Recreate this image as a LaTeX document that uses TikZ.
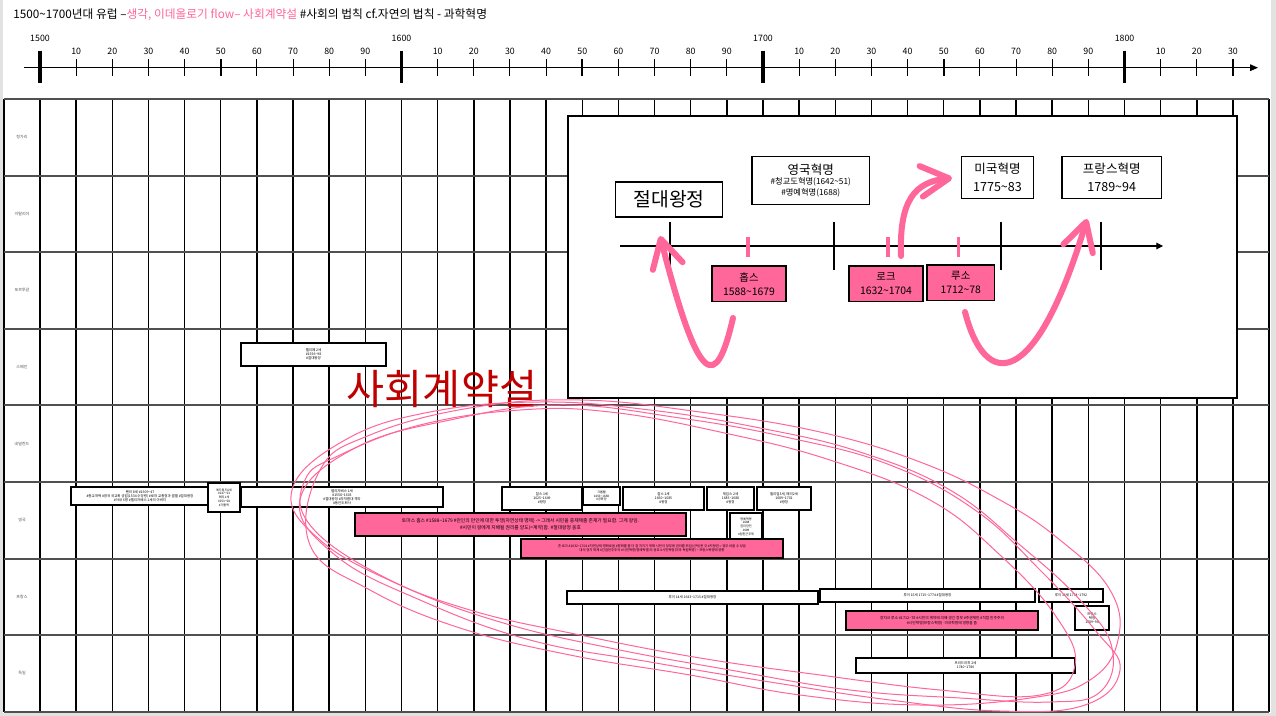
\documentclass[tikz,border=0pt]{standalone}
\usepackage{fontspec}
\setmainfont{Noto Sans CJK KR}
\usetikzlibrary{arrows.meta}

\definecolor{hpink}{RGB}{255,102,153}
\definecolor{sred}{RGB}{192,0,0}
\definecolor{gline}{RGB}{80,80,80}
\definecolor{edge}{RGB}{226,226,226}
\newcommand{\wave}{\textasciitilde}

\tikzset{
  yrlbl/.style={inner sep=0pt,font=\fontsize{6.6}{7}\selectfont},
  ctick/.style={line width=2.6pt},
  mtick/.style={line width=1.8pt},
  dtick/.style={line width=0.8pt},
  gridv/.style={line width=1.1pt},
  gridh/.style={line width=1.4pt,draw=gline},
  rlbl/.style={inner sep=0pt,text=gline,font=\fontsize{3}{3.4}\selectfont},
  wh/.style 2 args={minimum width=#1*0.75pt,minimum height=#2*0.75pt},
  cell/.style={draw,fill=white,line width=0.9pt,inner sep=0pt,align=center,font=\fontsize{2.6}{3.1}\selectfont},
  pcell/.style={cell,fill=hpink},
  ibox/.style={draw,fill=white,line width=0.8pt,inner sep=0pt,align=center},
  pbox/.style={ibox,fill=hpink},
  parrow/.style={draw=hpink,line width=4.5pt,line cap=round,line join=round,
    -{Straight Barb[length=21pt,width=23pt,line cap=round,line join=round]}},
  scrib/.style={draw=hpink,line width=0.75pt}
}

\begin{document}
\begin{tikzpicture}[x=0.75pt,y=-0.75pt]
\useasboundingbox (0,0) rectangle (1276,716);
\fill[white] (0,0) rectangle (1276,716);
\fill[edge] (0,0) rectangle (3,716);
\fill[edge] (1271,0) rectangle (1276,716);
\fill[edge] (0,713) rectangle (1276,716);

% title
\node[anchor=west,inner sep=0pt,font=\fontsize{8.8}{10}\selectfont] (title) at (13,15)
  {1500\wave1700년대 유럽 –\textcolor{hpink}{생각, 이데올로기 flow– 사회계약설} \#사회의 법칙 cf.자연의 법칙 - 과학혁명};

% time line 1500 - 1830
\draw[line width=0.9pt,-{Triangle[length=6pt,width=5pt]}] (24,67.7) -- (1258,67.7);
\foreach \c/\yr in {0/1500,1/1600,2/1700,3/1800}{
  \draw[ctick] ({40+361.5*\c},50.7) -- ({40+361.5*\c},82.7);
  \node[yrlbl] (cy\c) at ({40+361.5*\c},38) {\yr};
}
\foreach \c in {0,1,2}{
  \foreach \d in {1,2,3,4,6,7,8,9}{
    \pgfmathsetmacro\tx{40+361.5*\c+36.15*\d}
    \draw[dtick] (\tx,59.3) -- (\tx,76);
    \node[yrlbl] (y\c\d) at (\tx,51) {\d0};
  }
  \pgfmathsetmacro\tx{40+361.5*\c+180.75}
  \draw[mtick] (\tx,59.3) -- (\tx,76);
  \node[yrlbl] (y\c5) at (\tx,51) {50};
}
\foreach \d in {1,2,3}{
  \pgfmathsetmacro\tx{40+1084.5+36.15*\d}
  \draw[dtick] (\tx,59.3) -- (\tx,76);
  \node[yrlbl] (y3\d) at (\tx,51) {\d0};
}

% table
\foreach \k in {0,...,34}
  \draw[gridv] ({40+36.15*\k},99) -- ({40+36.15*\k},712);
\draw[gridv] (4,99) -- (4,712);
\foreach \r in {0,...,8}
  \draw[gridh] (4,{99+76.6*\r}) -- (1269,{99+76.6*\r});
\foreach \lbl [count=\i from 0] in {헝가리,이탈리아,포르투갈,스페인,네덜란드,영국,프랑스,독일}
  \node[rlbl] (row\i) at (22,{137.3+76.6*\i}) {\lbl};

% spain
\node[cell,wh={145}{23}] (philip) at (313.5,354.5) {펠리페 2세\\\#1556\wave98\\\#절대왕정};

% england
\node[cell,wh={138}{18}] (henry) at (140,496) {헨리 8세 \#1509\wave47\\\#종교개혁 \#영국 국교회 성립(1534 수장령) \#로마 교황청과 결별 \#절대왕정\\\#아내 6명 \#엘리자베스 1세의 아버지};
\node[cell,wh={32}{29},font=\fontsize{2.3}{2.8}\selectfont] (edward) at (224,497.5) {에드워드6세\\1547\wave53\\메리1세\\1553\wave58\\\#가톨릭};
\node[cell,wh={202}{20}] (eliz) at (342,497) {엘리자베스 1세\\\#1558\wave1603\\\#절대왕정 \#무적함대 격파\\\#동인도회사};
\node[cell,wh={80}{23}] (charles1) at (542,498.5) {찰스 1세\\1625\wave1649\\\#왕정};
\node[cell,wh={37}{18},font=\fontsize{2.3}{2.8}\selectfont] (cromwell) at (601.5,496) {크롬웰\\1653\wave1658\\\#공화정};
\node[cell,wh={81}{23}] (charles2) at (663.5,498.5) {찰스 2세\\1660\wave1685\\\#왕정};
\node[cell,wh={47}{23}] (james2) at (730.5,498.5) {제임스 2세\\1685\wave1688\\\#왕정};
\node[cell,wh={54}{23}] (william) at (784,498.5) {윌리엄3세, 메리2세\\1689\wave1702\\\#왕정};
\node[cell,wh={32}{27},font=\fontsize{2.3}{2.8}\selectfont] (glorious) at (746,526.5) {명예혁명\\1688\\권리장전\\1689\\\#입헌군주제};
\node[pcell,wh={331}{23},font=\fontsize{3.6}{5}\selectfont] (hobbes) at (520.5,524.5) {토마스 홉스 \#1588\wave1679 \#만인의 만인에 대한 투쟁(자연상태 명제) -> 그래서 시민을 중재해줄 존재가 필요함. 그게 왕임.\\\#시민이 왕에게 지배될 권리를 양도(=계약)함. \#절대왕정 옹호};
\node[pcell,wh={262}{19},font=\fontsize{2.5}{3.6}\selectfont] (locke) at (652,548.5) {존 로크 \#1632\wave1704 \#자연상태 평화로움 \#평화를 좀 더 잘 지키기 위해 시민이 정부에 권리를 위임(신탁)한 것 \#저항권 = 정부 바꿀 수 있음\\대의 정치 체제 \#간접민주주의 \#시민혁명(명예혁명)의 옹호 \#시민혁명(미국 독립혁명) \wave\ 프랑스혁명에 영향};

% france
\node[cell,wh={251}{13}] (louis14) at (692.5,597.5) {루이 14세 1643\wave1715 \#절대왕정};
\node[cell,wh={215}{13}] (louis15) at (927.5,595.5) {루이 15세 1715\wave1774 \#절대왕정};
\node[cell,wh={64}{13}] (louis16) at (1071,595.5) {루이 16세 1774\wave1792};
\node[pcell,wh={192}{19},font=\fontsize{2.8}{3.9}\selectfont] (rousseau) at (942,620.5) {장자크 루소 \#1712\wave78 \#시민의 계약에 의해 생긴 정부 \#주권재민 \#직접 민주주의\\\#시민혁명(프랑스혁명)·미국혁명에 영향을 줌};
\node[cell,wh={34}{24}] (frrev) at (1092,618) {프랑스\\혁명\\1789\wave94};

% germany
\node[cell,wh={219}{15}] (fried2) at (965.5,665.5) {프리드리히 2세\\1740\wave1786};

% summary box
\begin{scope}
\draw[line width=1pt,fill=white] (568,116) rectangle (1237,398);
\draw[line width=0.8pt,-{Triangle[length=5pt,width=5pt]}] (620,246) -- (1163,246);
\foreach \tx in {670,834,1001,1101}
  \draw[line width=0.8pt] (\tx,222) -- (\tx,270);
\foreach \tx in {748,888,958.5}
  \draw[draw=hpink,line width=2.6pt] (\tx,237) -- (\tx,257);

\node[ibox,wh={107}{35},font=\fontsize{14.5}{16}\selectfont] (absol) at (669,199.5) {절대왕정};
\node[ibox,wh={117.5}{47.6},font=\fontsize{6.2}{7.6}\selectfont] (engrev) at (810.75,180.5) {{\fontsize{9.4}{12}\selectfont 영국혁명}\\\#청교도혁명(1642\wave51)\\\#명예혁명(1688)};
\node[ibox,wh={72}{42},font=\fontsize{9.4}{13.5}\selectfont] (amrev) at (997.5,177.7) {미국혁명\\1775\wave83};
\node[ibox,wh={99.5}{42},font=\fontsize{9.4}{13.5}\selectfont] (frrev2) at (1111.75,177.7) {프랑스혁명\\1789\wave94};
\node[pbox,wh={74}{35.5},font=\fontsize{7.8}{10.5}\selectfont] (hob) at (749,283.75) {홉스\\1588\wave1679};
\node[pbox,wh={74}{35.5},font=\fontsize{7.8}{10.5}\selectfont] (loc) at (886,283.75) {로크\\1632\wave1704};
\node[pbox,wh={67.5}{35.5},font=\fontsize{7.8}{10.5}\selectfont] (rou) at (960.75,282.75) {루소\\1712\wave78};

\draw[parrow] (733,318) .. controls (716,392) and (699,388) .. (660,236);
\draw[parrow] (901,256) .. controls (899,200) and (915,182) .. (952,178);
\draw[parrow] (965,312) .. controls (985,390) and (1035,392) .. (1087,219);
\end{scope}

\node[text=sred,inner sep=0pt,font=\fontsize{31}{34}\selectfont] (social) at (442,389) {사회계약설};

% scribble round the contract theorists
\draw[scrib] plot[smooth cycle,tension=0.7] coordinates {(345,440) (430,412) (540,402) (650,410) (760,428) (860,452) (950,490) (1020,545) (1080,600) (1112,648) (1100,692) (1050,702) (960,698) (850,690) (730,670) (610,648) (500,622) (400,585) (320,540) (292,490)};
\draw[scrib] plot[smooth cycle,tension=0.7] coordinates {(355,448) (450,420) (560,405) (680,418) (790,438) (890,465) (975,510) (1040,570) (1095,630) (1120,670) (1085,705) (1000,711) (890,700) (770,682) (650,662) (530,640) (420,600) (335,555) (300,500)};
\draw[scrib] plot[smooth cycle,tension=0.7] coordinates {(340,455) (420,425) (520,410) (610,412) (720,432) (830,460) (930,500) (1000,555) (1055,615) (1075,665) (1040,695) (940,690) (820,675) (700,658) (580,635) (470,610) (380,575) (310,525) (305,480)};
\draw[scrib] plot[smooth cycle,tension=0.7] coordinates {(370,435) (470,408) (580,400) (700,412) (820,432) (920,462) (1000,500) (1060,540) (1110,590) (1118,640) (1090,680) (1030,698) (920,705) (800,695) (690,675) (570,655) (460,628) (370,590) (310,545) (320,470)};
\end{tikzpicture}
\end{document}
